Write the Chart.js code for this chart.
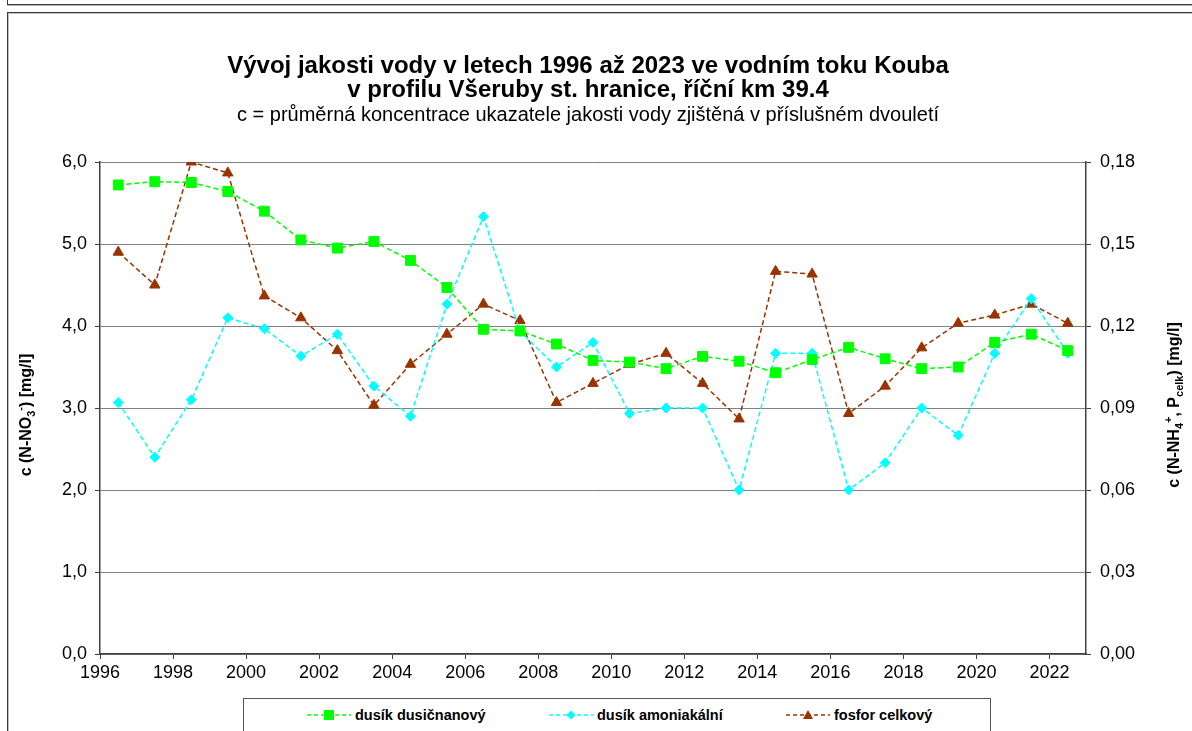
<!DOCTYPE html>
<html><head><meta charset="utf-8">
<script src="https://cdn.jsdelivr.net/npm/chart.js@4.4.0/dist/chart.umd.min.js"></script>
<style>
html,body{margin:0;padding:0;background:#fff;}
body{width:1192px;height:731px;position:relative;overflow:hidden;font-family:"Liberation Sans",Arial,sans-serif;}
.frame1{position:absolute;left:7px;top:-20px;width:1300px;height:23px;border:1px solid #3a3a3a;box-shadow:0 1px 0 #b0b0b0;}
.frame2{position:absolute;left:7px;top:12px;width:1300px;height:900px;border:1px solid #3a3a3a;box-shadow:inset 1px 1px 0 #c0c0c0;}
#c{position:absolute;left:0;top:0;}
#legend{position:absolute;left:243px;top:698px;width:746px;height:60px;border:1px solid #555;background:#fff;}
.item{position:absolute;top:7px;height:18px;display:flex;align-items:center;font:bold 14.5px "Liberation Sans",Arial,sans-serif;color:#000;white-space:nowrap;}
.item svg{margin-right:4px;}
</style></head>
<body>
<div class="frame1"></div>
<div class="frame2"></div>
<canvas id="c" width="1192" height="731"></canvas>
<div id="legend"></div>
<script>
// ---- data ----
const years = [1996.5,1997.5,1998.5,1999.5,2000.5,2001.5,2002.5,2003.5,2004.5,2005.5,2006.5,2007.5,2008.5,2009.5,2010.5,2011.5,2012.5,2013.5,2014.5,2015.5,2016.5,2017.5,2018.5,2019.5,2020.5,2021.5,2022.5];
const nitrate = [5.72,5.76,5.75,5.64,5.40,5.05,4.95,5.03,4.80,4.47,3.96,3.94,3.78,3.58,3.56,3.48,3.63,3.57,3.43,3.59,3.74,3.60,3.48,3.50,3.80,3.90,3.70];
const ammonia = [0.092,0.072,0.093,0.123,0.119,0.109,0.117,0.098,0.087,0.128,0.160,0.118,0.105,0.114,0.088,0.090,0.090,0.060,0.110,0.110,0.060,0.070,0.090,0.080,0.110,0.130,0.110];
const phosphorus = [0.147,0.135,0.180,0.176,0.131,0.123,0.111,0.091,0.106,0.117,0.128,0.122,0.092,0.099,0.106,0.110,0.099,0.086,0.140,0.139,0.088,0.098,0.112,0.121,0.124,0.128,0.121];
const xTicks = [1996,1998,2000,2002,2004,2006,2008,2010,2012,2014,2016,2018,2020,2022];
const yLeftTicks = [0,1,2,3,4,5,6];
const yRightTicks = [0,0.03,0.06,0.09,0.12,0.15,0.18];
const seriesNames = ['dusík dusičnanový','dusík amoniakální','fosfor celkový'];
const titleLines = ['Vývoj jakosti vody v letech 1996 až 2023 ve vodním toku Kouba','v profilu Všeruby st. hranice, říční km 39.4'];
const subtitleText = 'c = průměrná koncentrace ukazatele jakosti vody zjištěná v příslušném dvouletí';

const FAM = '"Liberation Sans", Arial, sans-serif';
const colors = ['#00FF00','#00FFFF','#993300'];

function pts(arr){ return years.map((x,i)=>({x:x,y:arr[i]})); }

function richTitle(ctx, parts, cx, cy){
  ctx.save();
  ctx.translate(cx, cy);
  ctx.rotate(-Math.PI/2);
  let total = 0;
  parts.forEach(p=>{
    ctx.font = (p.k==='n' ? 'bold 16px ' : 'bold 11px ') + FAM;
    p.w = ctx.measureText(p.t).width; total += p.w;
  });
  let x = -total/2;
  ctx.textBaseline = 'middle';
  ctx.textAlign = 'left';
  ctx.fillStyle = '#000';
  parts.forEach(p=>{
    ctx.font = (p.k==='n' ? 'bold 16px ' : 'bold 11px ') + FAM;
    const dy = p.k==='sub' ? 5 : (p.k==='sup' ? -6 : 0);
    ctx.fillText(p.t, x, dy);
    x += p.w;
  });
  ctx.restore();
}

const axisTitles = {
  id:'axisTitles',
  afterDraw(chart){
    const ctx = chart.ctx;
    const a = chart.chartArea;
    const cy = (a.top + a.bottom)/2;
    richTitle(ctx, [{t:'c (N-NO',k:'n'},{t:'3',k:'sub'},{t:'-',k:'sup'},{t:') [mg/l]',k:'n'}], 27, cy+7);
    richTitle(ctx, [{t:'c (N-NH',k:'n'},{t:'4',k:'sub'},{t:'+',k:'sup'},{t:', P',k:'n'},{t:'celk',k:'sub'},{t:') [mg/l]',k:'n'}], 1175, cy-3);
  }
};

const common = {borderDash:[5,3], borderWidth:1.5, tension:0, pointBorderWidth:1, fill:false};

new Chart(document.getElementById('c'), {
  type:'line',
  data:{datasets:[
    Object.assign({label:seriesNames[0], data:pts(nitrate), yAxisID:'y', borderColor:colors[0], backgroundColor:colors[0], pointBackgroundColor:colors[0], pointBorderColor:colors[0], pointStyle:'rect', pointRadius:7}, common),
    Object.assign({label:seriesNames[1], data:pts(ammonia), yAxisID:'y1', borderColor:colors[1], backgroundColor:colors[1], pointBackgroundColor:colors[1], pointBorderColor:colors[1], pointStyle:'rectRot', pointRadius:5}, common),
    Object.assign({label:seriesNames[2], data:pts(phosphorus), yAxisID:'y1', borderColor:colors[2], backgroundColor:colors[2], pointBackgroundColor:colors[2], pointBorderColor:colors[2], pointStyle:'triangle', pointRadius:6}, common)
  ]},
  options:{
    responsive:false, animation:false,
    layout:{padding:{left:0,right:16,top:0,bottom:0}},
    plugins:{
      legend:{display:false},
      tooltip:{enabled:false},
      title:{display:true, text:titleLines, color:'#000', font:{family:FAM,size:24,weight:'bold',lineHeight:1.0}, padding:{top:54,bottom:0}},
      subtitle:{display:true, text:subtitleText, color:'#000', font:{family:FAM,size:20,lineHeight:1.2}, padding:{top:1,bottom:35}}
    },
    scales:{
      x:{type:'linear', min:1996, max:2023,
        afterBuildTicks(s){ s.ticks = xTicks.map(v=>({value:v})); },
        afterFit(s){ s.height = 77; },
        ticks:{color:'#000', font:{family:FAM,size:18}, padding:3, maxRotation:0, autoSkip:false, callback:v=>String(v)},
        grid:{drawOnChartArea:false, drawTicks:true, tickLength:5, color:'#404040', tickColor:'#404040'},
        border:{color:'#404040', width:1.5}
      },
      y:{type:'linear', position:'left', min:0, max:6,
        afterBuildTicks(s){ s.ticks = yLeftTicks.map(v=>({value:v})); },
        afterFit(s){ s.width = 100; },
        ticks:{color:'#000', font:{family:FAM,size:18}, padding:8, callback:v=>v.toFixed(1).replace('.',',')},
        grid:{color:'#808080', lineWidth:1, tickColor:'#404040', tickLength:5},
        border:{color:'#404040', width:1.5}
      },
      y1:{type:'linear', position:'right', min:0, max:0.18,
        afterBuildTicks(s){ s.ticks = yRightTicks.map(v=>({value:v})); },
        afterFit(s){ s.width = 1176-1086; },
        ticks:{color:'#000', font:{family:FAM,size:18}, padding:9, callback:v=>v.toFixed(2).replace('.',',')},
        grid:{drawOnChartArea:false, tickColor:'#404040', tickLength:5},
        border:{color:'#404040', width:1.5}
      }
    }
  },
  plugins:[axisTitles]
});

// ---- HTML legend ----
const legendPos = [63, 305, 542];
const markers = [
  c=>`<rect x="17" y="4" width="10" height="10" fill="${c}"/>`,
  c=>`<polygon points="22,4.5 26.5,9 22,13.5 17.5,9" fill="${c}"/>`,
  c=>`<polygon points="22,4 27,13 17,13" fill="${c}"/>`
];
const lg = document.getElementById('legend');
seriesNames.forEach((n,i)=>{
  const d = document.createElement('div');
  d.className = 'item';
  d.style.left = legendPos[i] + 'px';
  d.innerHTML = `<svg width="44" height="18"><line x1="0" y1="9" x2="44" y2="9" stroke="${colors[i]}" stroke-width="1.5" stroke-dasharray="4,3"/>${markers[i](colors[i])}</svg><span>${n}</span>`;
  lg.appendChild(d);
});
</script>
</body></html>
